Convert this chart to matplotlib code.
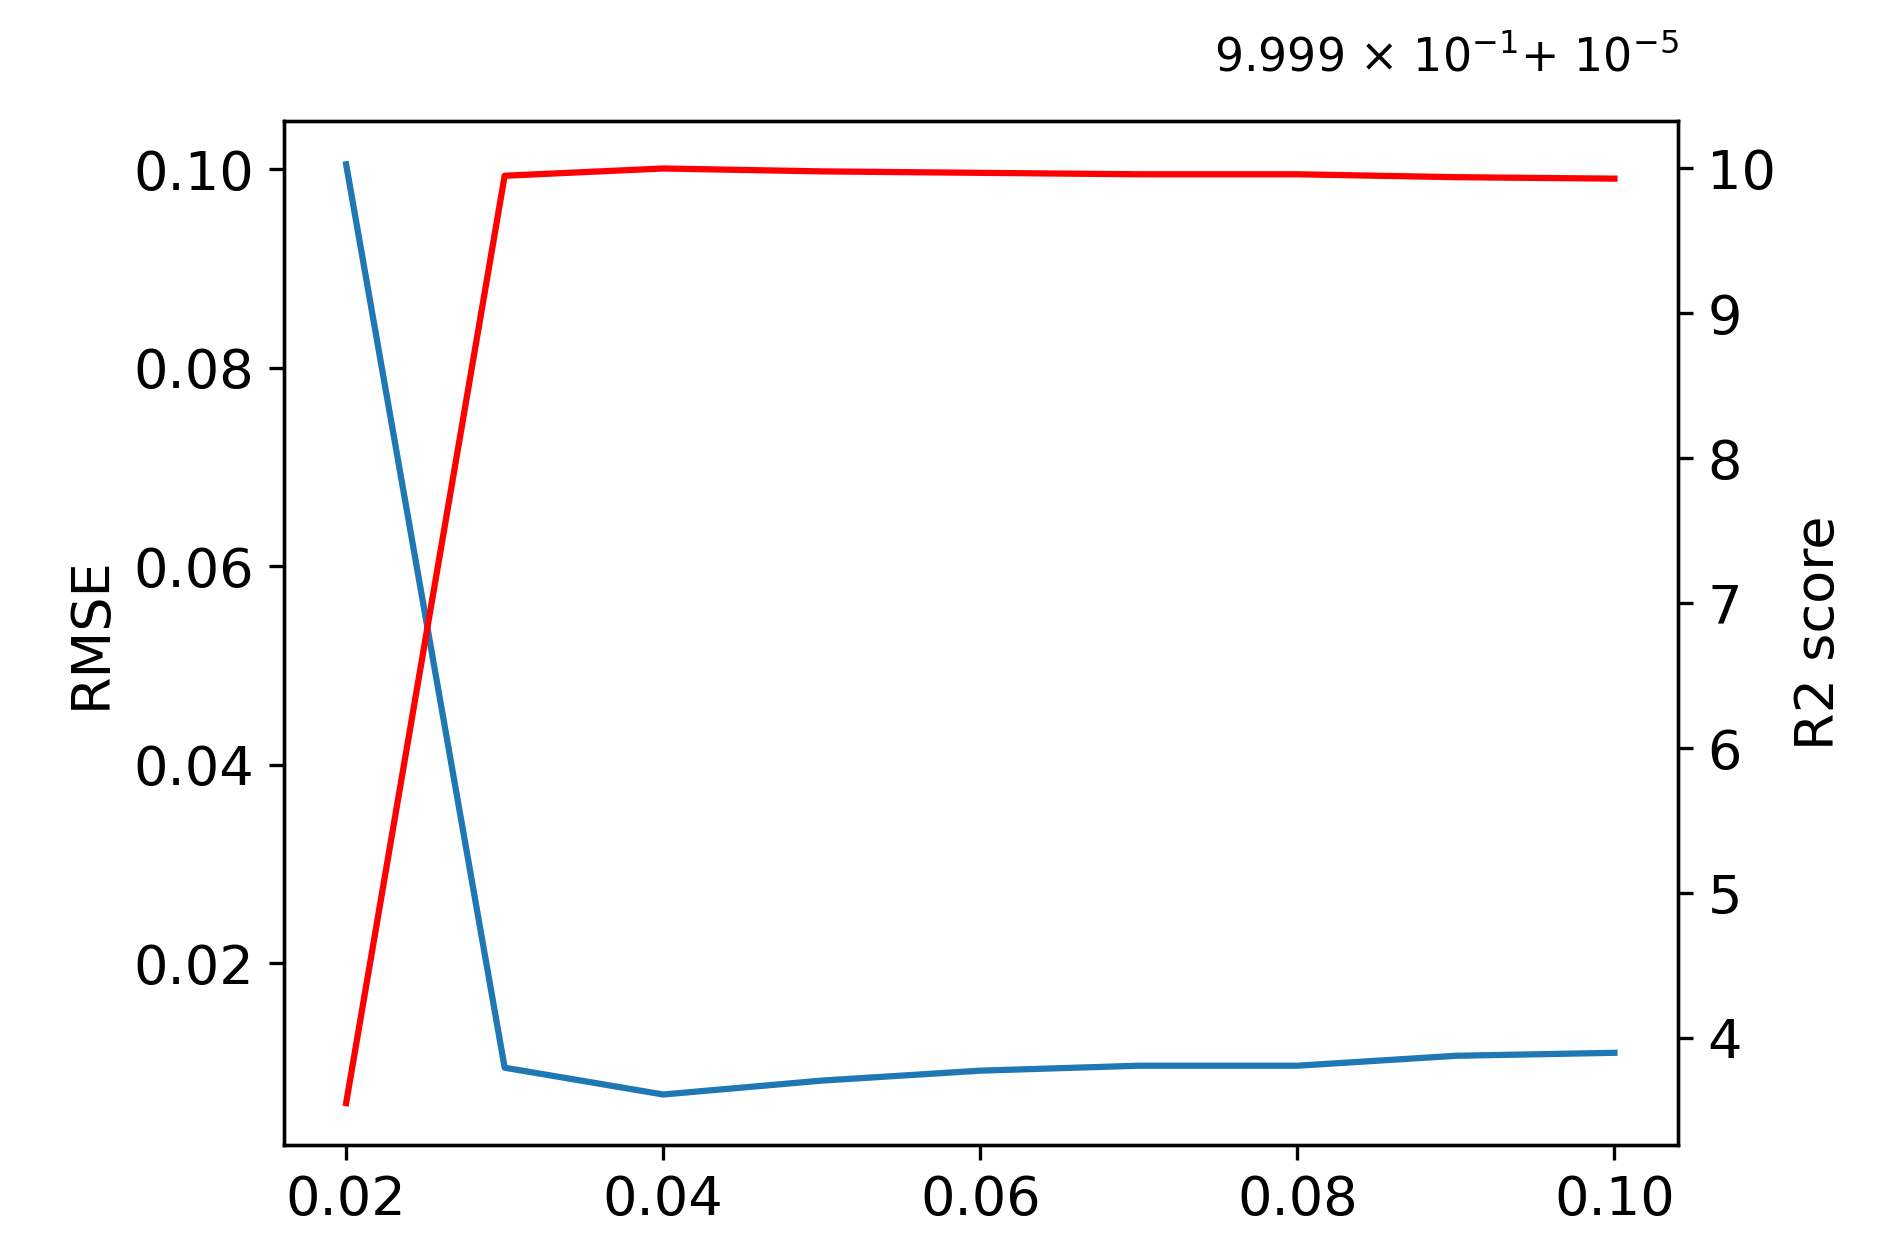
import matplotlib
matplotlib.use("Agg")
import matplotlib.pyplot as plt

x = [0.02, 0.03, 0.04, 0.05, 0.06, 0.07, 0.08, 0.09, 0.10]
rmse = [0.1005, 0.0095, 0.0068, 0.0082, 0.0092, 0.0097, 0.0097, 0.0107, 0.0110]
# R2 score shown as (R2 - 0.9999) / 1e-5
r2_scaled = [3.55, 9.95, 10.0, 9.98, 9.97, 9.96, 9.96, 9.94, 9.93]

plt.rcParams['font.size'] = 13
fig = plt.figure(figsize=(6.3, 4.19), dpi=300)
ax = fig.add_axes([0.15, 0.089, 0.738, 0.815])
ax.plot(x, rmse, color='#1f77b4', lw=1.5)
ax.set_ylabel('RMSE')
ax.set_xlim(0.01605, 0.10403)
ax.set_ylim(0.0017, 0.1049)
ax.set_xticks([0.02, 0.04, 0.06, 0.08, 0.10])
ax.set_yticks([0.02, 0.04, 0.06, 0.08, 0.10])

ax2 = ax.twinx()
ax2.plot(x, r2_scaled, color='red', lw=1.5)
ax2.set_ylim(3.26, 10.33)
ax2.set_yticks([4, 5, 6, 7, 8, 9, 10])
ax2.set_ylabel('R2 score')
fig.text(0.888, 0.935, r'9.999 $\times$ 10$^{-1}$+ 10$^{-5}$', ha='right', va='bottom', fontsize=11)

fig.savefig('out.png', dpi=300)
